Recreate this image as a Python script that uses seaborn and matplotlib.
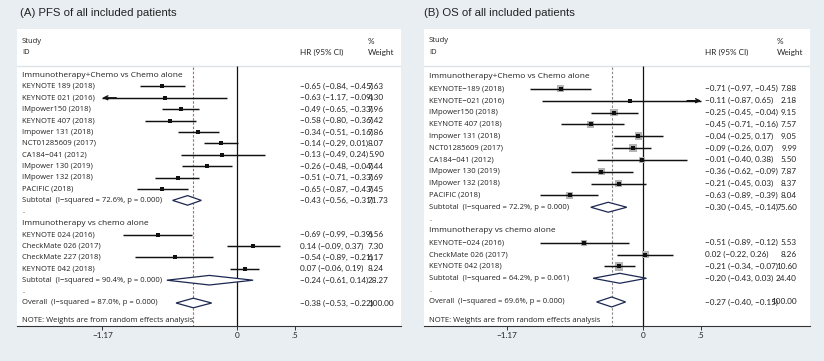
import matplotlib
matplotlib.use("Agg")
import matplotlib.pyplot as plt
import seaborn as sns
import pandas as pd
from matplotlib.patches import Polygon

sns.set_theme(style="white")
plt.rcParams['font.family'] = ['Open Sans', 'DejaVu Sans']

BG = '#e8eef2'
TXT = '#222222'
LAB_FONT = ['Open Sans', 'DejaVu Sans']
NUM_FONT = ['Lato', 'DejaVu Sans']
TITLE_FONT = ['Liberation Sans', 'DejaVu Sans']

# ---------------- Panel A data (PFS) ----------------
a_title = "(A) PFS of all included patients"
a_groups = ["Immunotherapy+Chemo vs Chemo alone", "Immunotherapy vs chemo alone"]
a_g1_study = ["KEYNOTE 189 (2018)", "KEYNOTE 021 (2016)", "IMpower150 (2018)",
              "KEYNOTE 407 (2018)", "Impower 131 (2018)", "NCT01285609 (2017)",
              "CA184−041 (2012)", "IMpower 130 (2019)", "IMpower 132 (2018)",
              "PACIFIC (2018)"]
a_g1_hr = [-0.65, -0.63, -0.49, -0.58, -0.34, -0.14, -0.13, -0.26, -0.51, -0.65]
a_g1_lo = [-0.84, -1.17, -0.65, -0.80, -0.51, -0.29, -0.49, -0.48, -0.71, -0.87]
a_g1_hi = [-0.45, -0.09, -0.33, -0.36, -0.16, 0.01, 0.24, -0.04, -0.33, -0.43]
a_g1_w = [7.63, 4.30, 7.96, 7.42, 7.86, 8.07, 5.90, 7.44, 7.69, 7.45]
a_g2_study = ["KEYNOTE 024 (2016)", "CheckMate 026 (2017)", "CheckMate 227 (2018)",
              "KEYNOTE 042 (2018)"]
a_g2_hr = [-0.69, 0.14, -0.54, 0.07]
a_g2_lo = [-0.99, -0.09, -0.89, -0.06]
a_g2_hi = [-0.39, 0.37, -0.21, 0.19]
a_g2_w = [6.56, 7.30, 6.17, 8.24]
a_sub_hr = [-0.43, -0.24]
a_sub_lo = [-0.56, -0.61]
a_sub_hi = [-0.31, 0.14]
a_sub_w = [71.73, 28.27]
a_sub_i2 = ["72.6%", "90.4%"]
a_sub_p = ["0.000", "0.000"]
a_all = [-0.38, -0.53, -0.22, 100.00]
a_all_i2, a_all_p = "87.0%", "0.000"

# ---------------- Panel B data (OS) ----------------
b_title = "(B) OS of all included patients"
b_groups = ["Immunotherapy+Chemo vs Chemo alone", "Immunotherapy vs chemo alone"]
b_g1_study = ["KEYNOTE−189 (2018)", "KEYNOTE−021 (2016)", "IMpower150 (2018)",
              "KEYNOTE 407 (2018)", "Impower 131 (2018)", "NCT01285609 (2017)",
              "CA184−041 (2012)", "IMpower 130 (2019)", "IMpower 132 (2018)",
              "PACIFIC (2018)"]
b_g1_hr = [-0.71, -0.11, -0.25, -0.45, -0.04, -0.09, -0.01, -0.36, -0.21, -0.63]
b_g1_lo = [-0.97, -0.87, -0.45, -0.71, -0.25, -0.26, -0.40, -0.62, -0.45, -0.89]
b_g1_hi = [-0.45, 0.65, -0.04, -0.16, 0.17, 0.07, 0.38, -0.09, 0.03, -0.39]
b_g1_w = [7.88, 2.18, 9.15, 7.57, 9.05, 9.99, 5.50, 7.87, 8.37, 8.04]
b_g2_study = ["KEYNOTE−024 (2016)", "CheckMate 026 (2017)", "KEYNOTE 042 (2018)"]
b_g2_hr = [-0.51, 0.02, -0.21]
b_g2_lo = [-0.89, -0.22, -0.34]
b_g2_hi = [-0.12, 0.26, -0.07]
b_g2_w = [5.53, 8.26, 10.60]
b_sub_hr = [-0.30, -0.20]
b_sub_lo = [-0.45, -0.43]
b_sub_hi = [-0.14, 0.03]
b_sub_w = [75.60, 24.40]
b_sub_i2 = ["72.2%", "64.2%"]
b_sub_p = ["0.000", "0.061"]
b_all = [-0.27, -0.40, -0.15, 100.00]
b_all_i2, b_all_p = "69.6%", "0.000"

x_ticks = [-1.17, 0, 0.5]
x_ticklabels = ["−1.17", "0", ".5"]
note = "NOTE: Weights are from random effects analysis"


def fmt(v):
    return f"{v:.2f}".replace("-", "−")


def build_rows(groups, g_study, g_hr, g_lo, g_hi, g_w, sub_hr, sub_lo, sub_hi,
               sub_w, sub_i2, sub_p, overall, all_i2, all_p):
    rows = []
    for gi, gname in enumerate(groups):
        rows.append(dict(kind="group", label=gname))
        for s, h, l, u, w in zip(g_study[gi], g_hr[gi], g_lo[gi], g_hi[gi], g_w[gi]):
            rows.append(dict(kind="study", label=s, hr=h, lo=l, hi=u, w=w))
        rows.append(dict(kind="sub", label=f"Subtotal  (I−squared = {sub_i2[gi]}, p = {sub_p[gi]})",
                         hr=sub_hr[gi], lo=sub_lo[gi], hi=sub_hi[gi], w=sub_w[gi]))
        rows.append(dict(kind="blank", label="."))
    rows.append(dict(kind="overall", label=f"Overall  (I−squared = {all_i2}, p = {all_p})",
                     hr=overall[0], lo=overall[1], hi=overall[2], w=overall[3]))
    df = pd.DataFrame(rows)
    df["row"] = range(len(df))
    return df


dfA = build_rows(a_groups, [a_g1_study, a_g2_study], [a_g1_hr, a_g2_hr],
                 [a_g1_lo, a_g2_lo], [a_g1_hi, a_g2_hi], [a_g1_w, a_g2_w],
                 a_sub_hr, a_sub_lo, a_sub_hi, a_sub_w, a_sub_i2, a_sub_p,
                 a_all, a_all_i2, a_all_p)
dfB = build_rows(b_groups, [b_g1_study, b_g2_study], [b_g1_hr, b_g2_hr],
                 [b_g1_lo, b_g2_lo], [b_g1_hi, b_g2_hi], [b_g1_w, b_g2_w],
                 b_sub_hr, b_sub_lo, b_sub_hi, b_sub_w, b_sub_i2, b_sub_p,
                 b_all, b_all_i2, b_all_p)

W, H = 824, 361
fig = plt.figure(figsize=(W / 100, H / 100), dpi=100, facecolor=BG)

layouts = [
    dict(df=dfA, title=a_title, tx=20, x0=17, x1=401, y0=29, y1=326, zero=237, scale=115.0,
         row0=75.0, sp=11.4, lab=22, hrx=300, wx=368, walign="left", whx=368,
         dash="#b5656d", boxes=False),
    dict(df=dfB, title=b_title, tx=424, x0=424, x1=810, y0=29, y1=325.5, zero=643, scale=116.0,
         row0=77.0, sp=11.84, lab=429, hrx=705, wx=797, walign="right", whx=777,
         dash="#8a8a8a", boxes=True),
]

FS_LAB = 5.5
FS_GRP = 6.0
FS_NUM = 5.9
for L in layouts:
    df = L["df"]
    ax = fig.add_axes([L["x0"] / W, 1 - L["y1"] / H, (L["x1"] - L["x0"]) / W,
                       (L["y1"] - L["y0"]) / H])
    ax.set_facecolor("white")
    zero, sc = L["zero"], L["scale"]
    px = lambda p: (p - zero) / sc
    py = lambda p: (p - L["row0"]) / L["sp"]
    ax.set_xlim(px(L["x0"]), px(L["x1"]))
    ax.set_ylim(py(L["y1"]), py(L["y0"]))

    for s in ["top", "right", "left"]:
        ax.spines[s].set_visible(False)
    ax.spines["bottom"].set_color("#333333")
    ax.spines["bottom"].set_linewidth(0.8)
    ax.set_yticks([])
    ax.set_xticks(x_ticks)
    ax.set_xticklabels(x_ticklabels, fontsize=FS_NUM, color=TXT, family=NUM_FONT)
    ax.tick_params(axis="x", direction="out", length=3, width=0.7, color="#333333",
                   pad=1.5, bottom=True)

    # header
    ax.axhline(py(65.5), color="#dde4e8", lw=1.0)
    ax.text(px(L["lab"]), py(41), "Study", fontsize=FS_LAB, color=TXT, va="center",
            ha="left", family=LAB_FONT)
    ax.text(px(L["lab"]), py(52), "ID", fontsize=FS_LAB, color=TXT, va="center",
            ha="left", family=LAB_FONT)
    ax.text(px(L["hrx"]), py(52), "HR (95% CI)", fontsize=FS_NUM, color=TXT, va="center",
            ha="left", family=NUM_FONT)
    ax.text(px(L["whx"]), py(41), "%", fontsize=FS_NUM, color=TXT, va="center",
            ha="left", family=NUM_FONT)
    ax.text(px(L["whx"]), py(52), "Weight", fontsize=FS_NUM, color=TXT, va="center",
            ha="left", family=NUM_FONT)

    ybot = py(L["y1"])
    ax.vlines(0, py(66), ybot, color="#111111", lw=0.9, zorder=2)
    ov = df[df.kind == "overall"].iloc[0]
    ax.vlines(ov.hr, py(67), ybot, color=L["dash"], lw=0.8, linestyles=(0, (2.2, 1.6)), zorder=2)

    lo_clip, hi_clip = x_ticks[0], x_ticks[-1]
    st = df[df.kind == "study"].copy()
    st["lo_c"] = st.lo.clip(lower=lo_clip)
    st["hi_c"] = st.hi.clip(upper=hi_clip)
    ax.hlines(st.row, st.lo_c, st.hi_c, color="#111111", lw=1.05, zorder=3)
    for _, r in st.iterrows():
        if r.lo <= lo_clip:
            ax.annotate("", xy=(lo_clip, r.row), xytext=(lo_clip + 0.12, r.row),
                        arrowprops=dict(arrowstyle="->", lw=1.0, color="#111111",
                                        mutation_scale=7, shrinkA=0, shrinkB=0), zorder=4)
        if r.hi > hi_clip:
            ax.annotate("", xy=(hi_clip, r.row), xytext=(hi_clip - 0.12, r.row),
                        arrowprops=dict(arrowstyle="->", lw=1.0, color="#111111",
                                        mutation_scale=7, shrinkA=0, shrinkB=0), zorder=4)

    if L["boxes"]:
        wmin, wmax = st.w.min(), st.w.max()
        sns.scatterplot(data=st, x="hr", y="row", size="w", sizes=(3.3 * wmin, 3.3 * wmax),
                        size_norm=(wmin, wmax), marker="s", color="#b4b4b4", linewidth=0,
                        legend=False, ax=ax, zorder=2.5)
        sns.scatterplot(data=st, x="hr", y="row", marker="s", color="#111111", s=5,
                        linewidth=0, legend=False, ax=ax, zorder=5)
    else:
        sns.scatterplot(data=st, x="hr", y="row", marker="s", color="#111111", s=7,
                        linewidth=0, legend=False, ax=ax, zorder=5)
    ax.set_xlabel("")
    ax.set_ylabel("")

    # diamonds
    for _, r in df[df.kind.isin(["sub", "overall"])].iterrows():
        h = 0.42
        poly = Polygon([(r.lo, r.row), (r.hr, r.row - h), (r.hi, r.row), (r.hr, r.row + h)],
                       closed=True, facecolor="white", edgecolor="#1c2850", lw=0.9, zorder=4)
        ax.add_patch(poly)

    # texts
    for _, r in df.iterrows():
        fs = FS_GRP if r.kind == "group" else FS_LAB
        ax.text(px(L["lab"]), r.row, r.label, fontsize=fs, color=TXT, va="center",
                ha="left", family=LAB_FONT)
        if r.kind in ("study", "sub", "overall"):
            ax.text(px(L["hrx"]), r.row, f"{fmt(r.hr)} ({fmt(r.lo)}, {fmt(r.hi)})",
                    fontsize=FS_NUM, color=TXT, va="center", ha="left", family=NUM_FONT)
            ax.text(px(L["wx"]), r.row, f"{r.w:.2f}", fontsize=FS_NUM, color=TXT,
                    va="center", ha=L["walign"], family=NUM_FONT)
    ax.text(px(L["lab"]), py(320), note, fontsize=FS_LAB, color=TXT, va="center",
            ha="left", family=LAB_FONT)

    fig.text(L["tx"] / W, 1 - 13.5 / H, L["title"], fontsize=8.2, color=TXT,
             va="center", ha="left", family=TITLE_FONT)

fig.savefig("out.png", dpi=100, facecolor=BG)
